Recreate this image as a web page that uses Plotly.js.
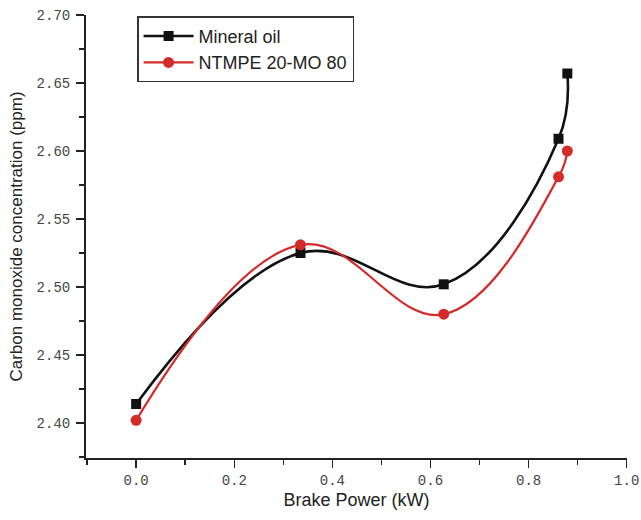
<!DOCTYPE html>
<html>
<head>
<meta charset="utf-8">
<script src="https://cdn.plot.ly/plotly-3.0.1.min.js"></script>
<style>html,body{margin:0;padding:0;background:#fff;}#chart{width:641px;height:520px;}</style>
</head>
<body>
<div id="chart"></div>
<script>
// Data
const brakePower = [0.0, 0.335, 0.627, 0.861, 0.879];
const mineralOil = [2.414, 2.525, 2.502, 2.609, 2.657];
const ntmpe = [2.402, 2.531, 2.480, 2.581, 2.600];
const seriesNames = ['Mineral oil', 'NTMPE 20-MO 80'];
const xTickVals = [0.0, 0.2, 0.4, 0.6, 0.8, 1.0];
const xTickText = ['0.0', '0.2', '0.4', '0.6', '0.8', '1.0'];
const yTickVals = [2.40, 2.45, 2.50, 2.55, 2.60, 2.65, 2.70];
const yTickText = ['2.40', '2.45', '2.50', '2.55', '2.60', '2.65', '2.70'];

const traces = [
  {
    x: brakePower, y: mineralOil, name: seriesNames[0],
    type: 'scatter', mode: 'lines+markers',
    line: {color: '#111111', width: 2.6, shape: 'spline', smoothing: 1.15},
    marker: {symbol: 'square', size: 10, color: '#111111'}
  },
  {
    x: brakePower, y: ntmpe, name: seriesNames[1],
    type: 'scatter', mode: 'lines+markers',
    line: {color: '#d42a2a', width: 2.2, shape: 'spline', smoothing: 1.15},
    marker: {symbol: 'circle', size: 11, color: '#d42a2a'}
  }
];

const tickFont = {family: 'Liberation Mono, Courier New, monospace', size: 14, color: '#444'};
const titleFont = {family: 'Liberation Sans, Arial, sans-serif', size: 18, color: '#222'};

const layout = {
  width: 641, height: 520,
  margin: {l: 86, r: 14, t: 15, b: 62},
  paper_bgcolor: '#ffffff', plot_bgcolor: '#ffffff',
  showlegend: true,
  legend: {
    x: 0.0944, y: 0.997, xanchor: 'left', yanchor: 'top',
    bgcolor: '#ffffff', bordercolor: '#333', borderwidth: 1.5,
    font: {family: 'Liberation Sans, Arial, sans-serif', size: 18, color: '#222'},
    itemwidth: 50
  },
  xaxis: {
    range: [-0.1022, 1.0006],
    tickvals: xTickVals, ticktext: xTickText,
    ticks: 'outside', ticklen: 8, tickwidth: 1.5, tickcolor: '#222',
    showline: true, linecolor: '#222', linewidth: 2,
    showgrid: false, zeroline: false, mirror: false,
    tickfont: tickFont, ticklabeloverflow: 'allow',
    minor: {dtick: 0.1, tick0: 0, ticks: 'outside', ticklen: 5, tickwidth: 1.5, tickcolor: '#222', showgrid: false},
    title: {text: 'Brake Power (kW)', font: titleFont, standoff: 6}
  },
  yaxis: {
    range: [2.3743, 2.70],
    tickvals: yTickVals, ticktext: yTickText,
    ticks: 'outside', ticklen: 8, tickwidth: 1.5, tickcolor: '#222',
    showline: true, linecolor: '#222', linewidth: 2,
    showgrid: false, zeroline: false, mirror: false,
    tickfont: tickFont, ticklabelstandoff: 3,
    minor: {dtick: 0.025, tick0: 2.4, ticks: 'outside', ticklen: 5, tickwidth: 1.5, tickcolor: '#222', showgrid: false},
    title: {text: 'Carbon monoxide concentration (ppm)', font: {family: 'Liberation Sans, Arial, sans-serif', size: 17, color: '#222'}, standoff: 10}
  }
};

Plotly.newPlot('chart', traces, layout, {displayModeBar: false, staticPlot: true});
</script>
</body>
</html>
